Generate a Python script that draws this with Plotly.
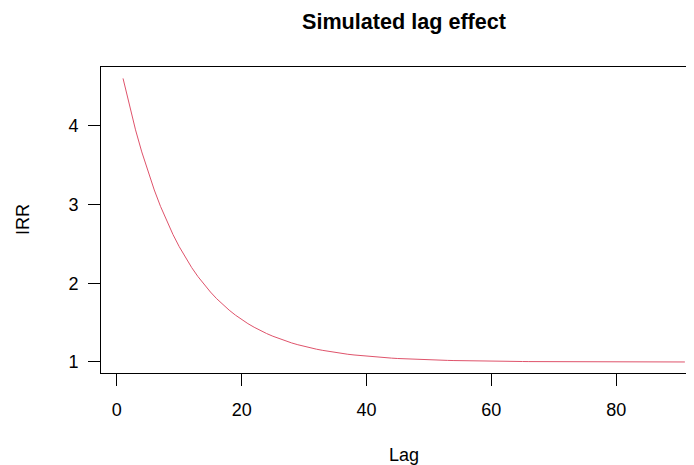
import plotly.graph_objects as go

lag = list(range(1, 92))
irr = [
    4.600, 4.257, 3.947, 3.667, 3.413, 3.184, 2.976, 2.788, 2.618, 2.464,
    2.324, 2.198, 2.084, 1.981, 1.888, 1.803, 1.727, 1.658, 1.595, 1.539,
    1.487, 1.441, 1.399, 1.361, 1.327, 1.296, 1.267, 1.242, 1.219, 1.198,
    1.179, 1.162, 1.147, 1.133, 1.120, 1.109, 1.098, 1.089, 1.081, 1.073,
    1.066, 1.060, 1.054, 1.049, 1.044, 1.040, 1.036, 1.033, 1.030, 1.027,
    1.024, 1.022, 1.020, 1.018, 1.016, 1.015, 1.013, 1.012, 1.011, 1.010,
    1.009, 1.008, 1.007, 1.007, 1.006, 1.005, 1.005, 1.004, 1.004, 1.004,
    1.003, 1.003, 1.003, 1.002, 1.002, 1.002, 1.002, 1.002, 1.001, 1.001,
    1.001, 1.001, 1.001, 1.001, 1.001, 1.001, 1.001, 1.000, 1.000, 1.000,
    1.000,
]
x_ticks = [0, 20, 40, 60, 80]
y_ticks = [1, 2, 3, 4]
title_text = "Simulated lag effect"
x_label = "Lag"
y_label = "IRR"

FONT = "Liberation Sans, Arial, sans-serif"

fig = go.Figure()
fig.add_trace(go.Scatter(x=lag, y=irr, mode="lines",
                         line=dict(color="#DF536B", width=1), showlegend=False))

axis_common = dict(showgrid=False, zeroline=False, showline=True, linecolor="black",
                   linewidth=1, ticks="outside", ticklen=12, tickwidth=1, tickcolor="black",
                   tickfont=dict(family=FONT, size=18, color="black"))

# page body has an 8px default margin, so the figure is offset by 8px
fig.update_layout(
    width=686, height=457,
    margin=dict(l=93, r=0, t=59, b=92),
    paper_bgcolor="white", plot_bgcolor="white",
    xaxis=dict(range=[-2.53, 92.46], tickvals=x_ticks, mirror=True,
               ticklabelstandoff=8, **axis_common),
    yaxis=dict(range=[0.860, 4.745], tickvals=y_ticks, mirror=False,
               ticklabelstandoff=6, **axis_common),
    annotations=[
        dict(text="<b>" + title_text + "</b>", x=0.511, y=1.150, xref="paper", yref="paper",
             xanchor="center", yanchor="middle", showarrow=False,
             font=dict(family=FONT, size=21.6, color="black")),
        dict(text=x_label, x=0.511, y=-0.268, xref="paper", yref="paper",
             xanchor="center", yanchor="middle", showarrow=False,
             font=dict(family=FONT, size=18, color="black")),
        dict(text=y_label, x=-0.1315, y=0.5, xref="paper", yref="paper",
             xanchor="center", yanchor="middle", showarrow=False, textangle=-90,
             font=dict(family=FONT, size=18, color="black")),
    ],
)

fig.write_html("out.html")
